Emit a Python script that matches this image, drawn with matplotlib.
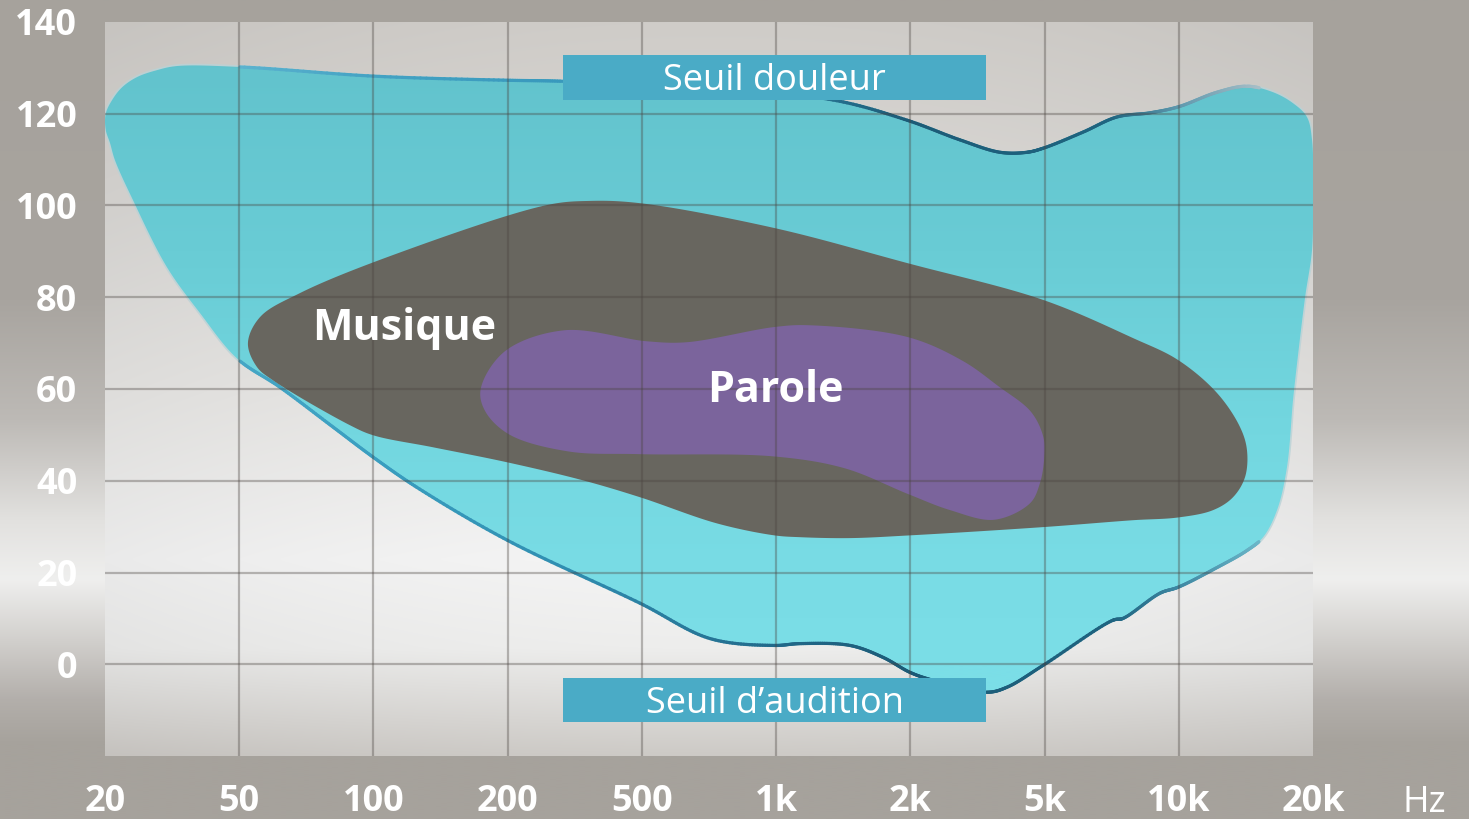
import numpy as np
import matplotlib
matplotlib.use('Agg')
import matplotlib.pyplot as plt
from matplotlib.patches import Polygon, Rectangle
from matplotlib.collections import LineCollection
from matplotlib.colors import to_rgb
from matplotlib.ticker import NullLocator

plt.rcParams['font.family'] = ['Open Sans', 'DejaVu Sans']

# ---------------- data ----------------
tick_hz = [20, 50, 100, 200, 500, 1000, 2000, 5000, 10000, 20000]
tick_labels = ['20', '50', '100', '200', '500', '1k', '2k', '5k', '10k', '20k']
db_ticks = [0, 20, 40, 60, 80, 100, 120, 140]

# hearing area: pain threshold (top) and hearing threshold (bottom), clockwise
area_hz = [20.1, 21.0, 22.5, 24.9, 28.5, 32.7, 50.2, 100, 200, 286, 675, 1342, 1966,
           2807, 3689, 4435, 4960, 6100, 7270, 8620, 9970, 12190, 14220, 16270,
           18040, 19380, 19900, 20000, 19900, 19200, 18420, 18040, 17480, 16610,
           15460, 14220, 12190, 9970, 9080, 7500, 7120, 4960, 3870, 3375, 2335,
           2000, 1737, 1465, 1131, 990, 711, 494, 200, 125, 100, 81.2, 61.7, 49.2,
           38.3, 30.5, 24.2, 21.4, 20.7, 20.1]
area_db = [120.0, 123.0, 125.8, 128.0, 129.5, 130.4, 130.2, 128.2, 127.3, 127.1,
           125.6, 123.0, 118.6, 114.3, 111.6, 111.6, 112.5, 116.0, 119.3, 120.2,
           121.5, 124.7, 126.0, 124.7, 122.3, 119.3, 114.3, 101.2, 90.3, 80.0, 65.6,
           57.6, 42.9, 33.6, 27.7, 24.8, 21.1, 16.8, 15.5, 10.0, 9.6, -0.2, -5.0,
           -6.1, -3.5, -1.8, 1.5, 4.1, 4.5, 4.1, 5.6, 13.3, 27.0, 38.6, 45.1, 51.7,
           60.4, 66.7, 76.5, 86.6, 101.2, 109.9, 113.6, 116.5]

musique_hz = [52.3, 55.7, 68.4, 110.6, 261.6, 351, 494, 990, 1977, 4960, 7896,
              9970, 12190, 13720, 14220, 14080, 13230, 11940, 9970, 7896, 4960,
              2000, 1465, 1131, 990, 737, 494, 334, 200, 136, 100, 88.6, 59.5, 54.8]
musique_db = [70.0, 75.7, 80.9, 89.2, 100.1, 101.0, 100.5, 95.1, 87.4, 79.4, 71.1,
              66.3, 59.1, 51.7, 46.7, 40.8, 36.4, 33.6, 32.0, 31.4, 29.9, 28.1,
              27.5, 27.7, 28.1, 30.7, 36.4, 40.1, 44.0, 47.3, 49.9, 52.1, 61.9, 64.8]

parole_hz = [174, 197, 294, 513, 631, 989, 1185, 1977, 2864, 3650, 4560, 4960,
             4990, 4846, 4529, 3550, 2623, 1977, 1427, 989, 490, 302, 202, 178]
parole_db = [60.0, 68.2, 72.8, 70.4, 70.2, 73.5, 73.9, 71.3, 66.1, 60.6, 55.0,
             49.5, 45.1, 39.5, 35.1, 31.5, 33.6, 37.1, 42.7, 45.3, 45.8, 46.4,
             50.1, 55.2]

labels = ['Musique', 'Parole']
label_hz = [117, 995]
label_db = [70.6, 57.2]
box_labels = ['Seuil douleur', 'Seuil d\u2019audition']

# ---------------- scale ----------------
LOG_T = np.log10(tick_hz)
POS = np.arange(len(tick_hz), dtype=float)


def fwd(f):
    f = np.asarray(f, dtype=float)
    with np.errstate(divide='ignore', invalid='ignore'):
        lf = np.log10(np.where(f > 0, f, 1e-9))
    out = np.interp(lf, LOG_T, POS)
    lo = (lf - LOG_T[0]) / (LOG_T[1] - LOG_T[0])
    hi = POS[-1] + (lf - LOG_T[-1]) / (LOG_T[-1] - LOG_T[-2])
    return np.where(lf < LOG_T[0], lo, np.where(lf > LOG_T[-1], hi, out))


def inv(p):
    p = np.asarray(p, dtype=float)
    out = np.interp(p, POS, LOG_T)
    lo = LOG_T[0] + p * (LOG_T[1] - LOG_T[0])
    hi = LOG_T[-1] + (p - POS[-1]) * (LOG_T[-1] - LOG_T[-2])
    return 10 ** np.where(p < 0, lo, np.where(p > POS[-1], hi, out))


SX, SY = 134.22, 4.586  # approx px per unit, for smooth outline


def smooth_closed(hz, db, n=24, alpha=0.5):
    P = np.column_stack([fwd(hz) * SX, np.asarray(db) * SY])
    N = len(P)
    out = []
    for i in range(N):
        p0, p1, p2, p3 = P[(i - 1) % N], P[i], P[(i + 1) % N], P[(i + 2) % N]
        t0 = 0.0
        t1 = t0 + np.linalg.norm(p1 - p0) ** alpha
        t2 = t1 + np.linalg.norm(p2 - p1) ** alpha
        t3 = t2 + np.linalg.norm(p3 - p2) ** alpha
        t = np.linspace(t1, t2, n, endpoint=False)[:, None]
        A1 = (t1 - t) / (t1 - t0) * p0 + (t - t0) / (t1 - t0) * p1
        A2 = (t2 - t) / (t2 - t1) * p1 + (t - t1) / (t2 - t1) * p2
        A3 = (t3 - t) / (t3 - t2) * p2 + (t - t2) / (t3 - t2) * p3
        B1 = (t2 - t) / (t2 - t0) * A1 + (t - t0) / (t2 - t0) * A2
        B2 = (t3 - t) / (t3 - t1) * A2 + (t - t1) / (t3 - t1) * A3
        C = (t2 - t) / (t2 - t1) * B1 + (t - t1) / (t2 - t1) * B2
        out.append(C)
    pts = np.vstack(out)
    return pts[:, 0] / SX, pts[:, 1] / SY  # index space, dB


def grad_img(stops_pos, stops_col, n=400):
    ys = np.linspace(0, 1, n)
    cols = np.array([to_rgb(c) for c in stops_col])
    img = np.zeros((n, 1, 3))
    for k in range(3):
        img[:, 0, k] = np.interp(ys, stops_pos, cols[:, k])
    return img


# ---------------- figure ----------------
W, H = 1469, 819
fig = plt.figure(figsize=(W / 100, H / 100), dpi=100)

bg = fig.add_axes([0, 0, 1, 1])
bg.set_zorder(-10)
bg.axis('off')
bg_stops = [0, 300, 420, 520, 580, 640, 700, 745, 819]
bg_cols = ['#a6a29c', '#a8a49f', '#bdbab6', '#e2e1df', '#efefee', '#d2d0cd',
           '#b3afab', '#a6a29c', '#a6a29c']
bg.imshow(grad_img(np.array(bg_stops) / H, bg_cols), aspect='auto',
          extent=[0, 1, 0, 1], interpolation='bilinear')
bg.set_xlim(0, 1)
bg.set_ylim(0, 1)

ax = fig.add_axes([105 / W, 63 / H, 1208 / W, 734 / H])
ax.patch.set_visible(False)
ax.set_xscale('function', functions=(fwd, inv))

# plot area gradient (top -> bottom), with slight horizontal vignette
pa_stops = np.array([22, 200, 400, 560, 650, 756])
pa_cols = ['#cfccc8', '#dad8d5', '#e8e7e5', '#f4f4f4', '#ededec', '#cdcac6']
col = grad_img((pa_stops - 22) / 734, pa_cols)
u = np.linspace(-1, 1, 300)
vign = 1 - 0.04 * u ** 2
pa_img = col * vign[None, :, None]
ax.imshow(pa_img, aspect='auto', extent=[0, 1, 0, 1], transform=ax.transAxes,
          interpolation='bilinear', zorder=0)

# hearing area
ax_i, ax_db = smooth_closed(area_hz, area_db)
area_poly = Polygon(np.column_stack([inv(ax_i), ax_db]), closed=True,
                    facecolor='none', edgecolor='#b9d3d7', lw=2.5, alpha=0.8,
                    zorder=0.9)
ax.add_patch(area_poly)
cy_stops = np.array([140, 130, 90, 50, 20, 0, -20])
cy_cols = ['#61c2cc', '#62c3cd', '#69ccd5', '#73d7e0', '#79dce5', '#7bdee7', '#7bdee7']
cy_img = grad_img((140 - cy_stops) / 160, cy_cols)
im = ax.imshow(cy_img, aspect='auto', extent=[0, 1, 0, 1], transform=ax.transAxes,
               interpolation='bilinear', zorder=1)
im.set_clip_path(area_poly)

# threshold strokes
imax = int(np.argmax(ax_i))
st_idx = [1.0, 2.0, 3.5, 5.0, 6.0, 7.5, 8.0, 8.6]
top_cols = ['#5cb3cf', '#44a2c3', '#3898bc', '#2c7e9e', '#1c5b77', '#1f6580',
            '#5e98ad', '#a8bec7']
bot_cols = ['#46a6c5', '#3a9ec0', '#2f8db0', '#22698a', '#1c5a76', '#1e6380',
            '#3e87a2', '#6bb6c8']
for sl, cols in ((slice(0, imax), top_cols), (slice(imax, None), bot_cols)):
    xi, yd = ax_i[sl], ax_db[sl]
    m = (xi >= 1.0) & (xi <= 8.6)
    xi, yd = xi[m], yd[m]
    order = np.argsort(xi)
    xi, yd = xi[order], yd[order]
    pts = np.column_stack([inv(xi), yd])
    segs = np.stack([pts[:-1], pts[1:]], axis=1)
    mid = 0.5 * (xi[:-1] + xi[1:])
    carr = np.array([to_rgb(c) for c in cols])
    seg_cols = np.column_stack([np.interp(mid, st_idx, carr[:, k]) for k in range(3)])
    lc = LineCollection(segs, colors=seg_cols, linewidths=2.3, zorder=1.5,
                        capstyle='round', joinstyle='round')
    ax.add_collection(lc)

# music area
mi, md = smooth_closed(musique_hz, musique_db)
ax.add_patch(Polygon(np.column_stack([inv(mi), md]), closed=True,
                     facecolor='#68665f', edgecolor='none', zorder=2))
# speech area
pi_, pd_ = smooth_closed(parole_hz, parole_db)
ax.add_patch(Polygon(np.column_stack([inv(pi_), pd_]), closed=True,
                     facecolor='#7b649c', edgecolor='none', zorder=3))

# grid on top
ax.vlines(tick_hz[1:-1], -20, 140, colors='#4a4440', linewidth=1.6, alpha=0.36,
          zorder=4)
ax.hlines(db_ticks[:-1], tick_hz[0], tick_hz[-1], colors='#4a4440', linewidth=1.6,
          alpha=0.36, zorder=4)

for txt, fx, fy in zip(labels, label_hz, label_db):
    ax.text(fx, fy, txt, color='white', fontsize=31, fontweight='bold',
            ha='center', va='baseline', zorder=5)

# threshold boxes
box_x0, box_x1 = (563 - 105) / 1208, (986 - 105) / 1208
for txt, y0, y1, yb in ((box_labels[0], (756 - 100) / 734, (756 - 55) / 734, (756 - 90) / 734),
                        (box_labels[1], (756 - 722) / 734, (756 - 678) / 734, (756 - 713) / 734)):
    ax.add_patch(Rectangle((box_x0, y0), box_x1 - box_x0, y1 - y0,
                           transform=ax.transAxes, facecolor='#4aabc6',
                           edgecolor='none', zorder=6))
    ax.text((box_x0 + box_x1) / 2, yb, txt, transform=ax.transAxes, color='white',
            fontsize=26, ha='center', va='baseline', zorder=7)

ax.set_xticks(tick_hz, labels=tick_labels, fontweight='bold')
ax.set_yticks(db_ticks, labels=[str(v) for v in db_ticks], fontweight='bold')
ax.xaxis.set_minor_locator(NullLocator())
ax.yaxis.set_minor_locator(NullLocator())
ax.tick_params(axis='both', length=0, labelcolor='white', labelsize=26)
ax.tick_params(axis='x', pad=20)
ax.tick_params(axis='y', pad=20)
for s in ax.spines.values():
    s.set_visible(False)

ax.set_xlim(tick_hz[0], tick_hz[-1])
ax.set_ylim(-20, 140)

fig.text(1424 / W, (H - 812) / H, 'Hz', color='white', fontsize=26,
         ha='center', va='baseline')

fig.savefig('out.png', dpi=100)
